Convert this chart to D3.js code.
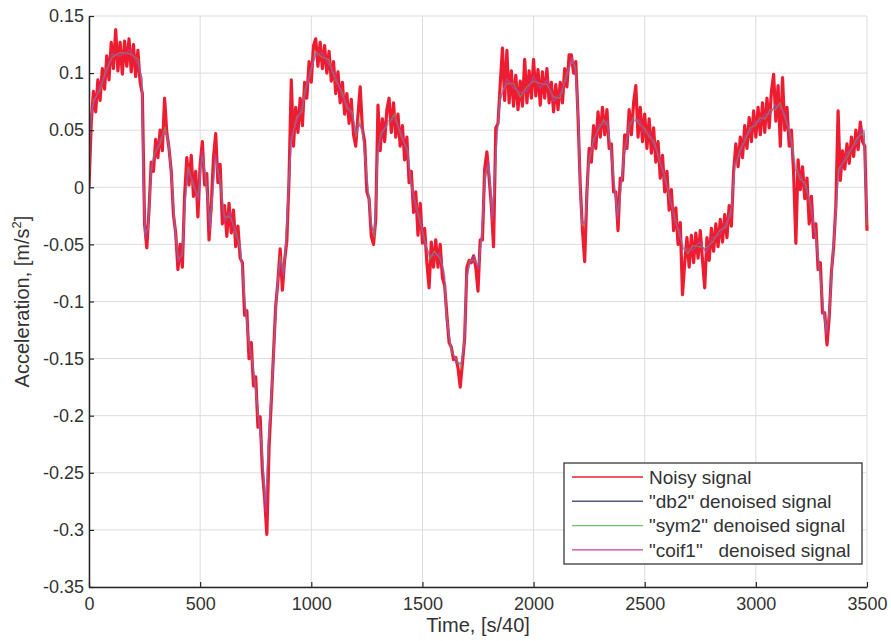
<!DOCTYPE html>
<html>
<head>
<meta charset="utf-8">
<script src="https://cdn.jsdelivr.net/npm/d3@7"></script>
<style>
body { margin: 0; background: #fff; }
svg text { font-family: "Liberation Sans", Arial, sans-serif; fill: #333; }
</style>
</head>
<body>
<script>
// noisy signal, one value every 10 samples
var noisyStep = 10;
var noisySignal = [
  0.000, 0.056, 0.084, 0.066, 0.094, 0.076, 0.104, 0.086, 0.115, 0.094,
  0.127, 0.104, 0.138, 0.102, 0.127, 0.099, 0.128, 0.106, 0.130, 0.101,
  0.125, 0.097, 0.120, 0.092, 0.082, -0.032, -0.053, -0.020, 0.022, 0.014,
  0.042, 0.026, 0.050, 0.032, 0.078, 0.048, 0.034, 0.014, -0.024, -0.040,
  -0.072, -0.050, -0.070, -0.008, 0.026, 0.002, 0.028, -0.008, 0.014, -0.026,
  0.020, 0.040, 0.002, 0.012, -0.046, -0.016, 0.026, 0.047, 0.004, 0.020,
  -0.032, -0.016, -0.043, -0.014, -0.040, -0.020, -0.052, -0.034, -0.062, -0.066,
  -0.112, -0.108, -0.150, -0.136, -0.174, -0.166, -0.210, -0.201, -0.248, -0.272,
  -0.304, -0.228, -0.188, -0.146, -0.104, -0.082, -0.054, -0.090, -0.064, -0.047,
  0.008, 0.094, 0.036, 0.070, 0.048, 0.078, 0.054, 0.092, 0.078, 0.110,
  0.092, 0.124, 0.130, 0.106, 0.127, 0.104, 0.124, 0.100, 0.119, 0.093,
  0.110, 0.082, 0.101, 0.074, 0.092, 0.064, 0.082, 0.056, 0.077, 0.046,
  0.036, 0.063, 0.088, 0.051, 0.040, -0.004, -0.010, -0.043, -0.050, -0.028,
  0.072, 0.032, 0.060, 0.040, 0.068, 0.078, 0.048, 0.074, 0.044, 0.064,
  0.036, 0.054, 0.024, 0.044, 0.004, 0.014, -0.022, -0.004, -0.042, -0.014,
  -0.049, -0.036, -0.066, -0.088, -0.048, -0.070, -0.046, -0.070, -0.050, -0.079,
  -0.086, -0.112, -0.136, -0.140, -0.151, -0.149, -0.158, -0.175, -0.154, -0.132,
  -0.070, -0.064, -0.066, -0.060, -0.070, -0.091, -0.046, -0.046, 0.016, 0.031,
  0.008, -0.016, -0.052, 0.052, 0.056, 0.090, 0.122, 0.076, 0.120, 0.074,
  0.102, 0.071, 0.098, 0.068, 0.093, 0.071, 0.112, 0.074, 0.102, 0.078,
  0.112, 0.080, 0.103, 0.072, 0.101, 0.078, 0.104, 0.074, 0.092, 0.066,
  0.090, 0.068, 0.092, 0.074, 0.104, 0.088, 0.116, 0.116, 0.100, 0.110,
  0.062, 0.002, -0.038, -0.065, -0.004, 0.034, 0.022, 0.054, 0.034, 0.066,
  0.044, 0.070, 0.046, 0.068, 0.034, 0.038, -0.004, -0.004, -0.038, 0.008,
  0.006, 0.046, 0.034, 0.068, 0.046, 0.074, 0.089, 0.044, 0.070, 0.040,
  0.064, 0.034, 0.060, 0.030, 0.052, 0.022, 0.040, 0.008, 0.028, -0.004,
  0.014, -0.020, -0.002, -0.038, -0.018, -0.050, -0.031, -0.094, -0.066, -0.044,
  -0.070, -0.042, -0.066, -0.040, -0.062, -0.038, -0.064, -0.088, -0.044, -0.064,
  -0.036, -0.056, -0.032, -0.052, -0.028, -0.048, -0.024, -0.044, -0.016, -0.034,
  0.014, 0.038, 0.018, 0.044, 0.026, 0.054, 0.034, 0.061, 0.040, 0.067,
  0.044, 0.070, 0.046, 0.074, 0.048, 0.078, 0.052, 0.084, 0.099, 0.058,
  0.089, 0.036, 0.096, 0.050, 0.070, 0.036, 0.050, 0.012, -0.049, 0.024,
  -0.002, 0.018, -0.010, 0.008, -0.032, -0.008, -0.044, -0.032, -0.072, -0.066,
  -0.110, -0.110, -0.138, -0.114, -0.074, -0.052, -0.016, 0.067, 0.006, 0.032,
  0.016, 0.038, 0.021, 0.044, 0.027, 0.050, 0.033, 0.057, 0.040, 0.036,
  -0.038
];

// the three denoised signals share these sample times
var denoisedTime = [
  0, 8, 20, 50, 75, 105, 140, 185, 220, 238,
  244, 252, 266, 279, 290, 320, 342, 358, 374, 388,
  402, 419, 432, 446, 468, 491, 509, 523, 545, 568,
  590, 610, 635, 660, 680, 700, 718, 740, 760, 778,
  795, 808, 830, 845, 860, 875, 886, 898, 910, 935,
  958, 973, 995, 1018, 1048, 1078, 1108, 1138, 1161, 1185,
  1201, 1216, 1231, 1254, 1269, 1284, 1291, 1299, 1314, 1344,
  1374, 1404, 1434, 1449, 1472, 1486, 1509, 1532, 1554, 1577,
  1599, 1607, 1629, 1652, 1674, 1689, 1697, 1712, 1734, 1752,
  1767, 1782, 1797, 1815, 1835, 1850, 1880, 1910, 1940, 1970,
  2000, 2030, 2060, 2090, 2120, 2150, 2172, 2188, 2203, 2210,
  2218, 2233, 2248, 2270, 2293, 2315, 2333, 2348, 2363, 2378,
  2393, 2408, 2431, 2453, 2476, 2498, 2521, 2543, 2566, 2589,
  2611, 2634, 2656, 2671, 2694, 2716, 2746, 2776, 2806, 2836,
  2866, 2889, 2904, 2929, 2952, 2974, 2997, 3019, 3042, 3064,
  3087, 3109, 3132, 3154, 3177, 3199, 3222, 3245, 3267, 3290,
  3305, 3318, 3330, 3342, 3357, 3372, 3410, 3455, 3477, 3487,
  3493, 3500
];

var db2Signal = [
  0.000, 0.060, 0.074, 0.087, 0.100, 0.116, 0.116, 0.119, 0.110, 0.094,
  0.010, -0.043, -0.035, 0.015, 0.026, 0.040, 0.050, 0.040, 0.000, -0.041,
  -0.064, -0.058, -0.012, 0.016, 0.004, -0.010, 0.030, 0.011, -0.036, 0.027,
  0.004, -0.028, -0.024, -0.040, -0.052, -0.098, -0.133, -0.160, -0.195, -0.230,
  -0.280, -0.220, -0.150, -0.090, -0.062, -0.076, -0.046, 0.000, 0.042, 0.060,
  0.068, 0.084, 0.100, 0.117, 0.116, 0.110, 0.096, 0.082, 0.071, 0.064,
  0.046, 0.057, 0.048, 0.000, -0.032, -0.042, -0.010, 0.032, 0.046, 0.056,
  0.062, 0.047, 0.030, 0.003, -0.018, -0.026, -0.047, -0.061, -0.058, -0.060,
  -0.076, -0.112, -0.142, -0.152, -0.156, -0.135, -0.082, -0.066, -0.062, -0.070,
  -0.040, 0.008, 0.022, -0.028, 0.045, 0.078, 0.093, 0.089, 0.081, 0.086,
  0.095, 0.089, 0.092, 0.077, 0.080, 0.098, 0.112, 0.104, 0.055, -0.005,
  -0.032, -0.030, 0.023, 0.040, 0.053, 0.057, 0.056, 0.031, 0.003, -0.027,
  0.000, 0.030, 0.055, 0.060, 0.057, 0.050, 0.046, 0.038, 0.025, 0.009,
  -0.007, -0.027, -0.040, -0.052, -0.056, -0.053, -0.050, -0.055, -0.046, -0.040,
  -0.033, -0.022, 0.018, 0.031, 0.043, 0.050, 0.056, 0.059, 0.062, 0.066,
  0.070, 0.072, 0.062, 0.046, 0.018, 0.009, 0.002, -0.014, -0.040, -0.078,
  -0.110, -0.127, -0.110, -0.072, -0.027, 0.014, 0.028, 0.041, 0.049, 0.047,
  0.005, -0.030
];

var sym2Signal = [
  0.000, 0.058, 0.076, 0.085, 0.102, 0.114, 0.118, 0.117, 0.112, 0.092,
  0.014, -0.040, -0.037, 0.012, 0.028, 0.038, 0.053, 0.038, 0.003, -0.039,
  -0.062, -0.060, -0.015, 0.018, 0.002, -0.008, 0.028, 0.013, -0.034, 0.025,
  0.006, -0.026, -0.026, -0.038, -0.054, -0.095, -0.135, -0.158, -0.197, -0.228,
  -0.276, -0.224, -0.147, -0.093, -0.060, -0.074, -0.049, 0.003, 0.040, 0.062,
  0.066, 0.086, 0.098, 0.119, 0.114, 0.112, 0.094, 0.084, 0.069, 0.066,
  0.044, 0.060, 0.046, 0.003, -0.030, -0.044, -0.013, 0.030, 0.048, 0.054,
  0.064, 0.045, 0.032, 0.001, -0.016, -0.028, -0.045, -0.063, -0.056, -0.062,
  -0.074, -0.109, -0.144, -0.150, -0.158, -0.132, -0.085, -0.064, -0.064, -0.068,
  -0.043, 0.011, 0.020, -0.025, 0.043, 0.080, 0.091, 0.091, 0.079, 0.088,
  0.093, 0.091, 0.090, 0.079, 0.078, 0.100, 0.110, 0.106, 0.052, -0.002,
  -0.034, -0.028, 0.020, 0.042, 0.051, 0.059, 0.054, 0.033, 0.006, -0.025,
  -0.003, 0.032, 0.053, 0.062, 0.055, 0.052, 0.044, 0.040, 0.023, 0.011,
  -0.009, -0.025, -0.042, -0.050, -0.058, -0.051, -0.052, -0.053, -0.048, -0.038,
  -0.035, -0.019, 0.015, 0.033, 0.041, 0.052, 0.054, 0.061, 0.060, 0.068,
  0.068, 0.074, 0.060, 0.048, 0.021, 0.007, 0.004, -0.016, -0.038, -0.080,
  -0.108, -0.125, -0.112, -0.070, -0.030, 0.016, 0.026, 0.043, 0.047, 0.045,
  0.008, -0.033
];

var coif1Signal = [
  0.000, 0.062, 0.073, 0.089, 0.098, 0.117, 0.115, 0.120, 0.108, 0.096,
  0.008, -0.045, -0.033, 0.017, 0.024, 0.042, 0.048, 0.042, -0.002, -0.043,
  -0.066, -0.056, -0.010, 0.014, 0.006, -0.012, 0.032, 0.009, -0.038, 0.029,
  0.002, -0.030, -0.022, -0.042, -0.050, -0.100, -0.131, -0.162, -0.193, -0.232,
  -0.284, -0.216, -0.153, -0.088, -0.064, -0.078, -0.044, -0.002, 0.044, 0.058,
  0.070, 0.082, 0.102, 0.115, 0.118, 0.108, 0.098, 0.080, 0.073, 0.062,
  0.048, 0.055, 0.050, -0.002, -0.034, -0.040, -0.008, 0.034, 0.044, 0.058,
  0.060, 0.049, 0.028, 0.005, -0.020, -0.024, -0.049, -0.059, -0.060, -0.058,
  -0.078, -0.115, -0.140, -0.154, -0.154, -0.138, -0.080, -0.068, -0.060, -0.072,
  -0.038, 0.006, 0.024, -0.030, 0.047, 0.076, 0.095, 0.087, 0.083, 0.084,
  0.097, 0.087, 0.094, 0.075, 0.082, 0.096, 0.114, 0.102, 0.058, -0.008,
  -0.030, -0.032, 0.026, 0.038, 0.055, 0.055, 0.058, 0.029, 0.000, -0.029,
  0.003, 0.028, 0.057, 0.058, 0.059, 0.048, 0.048, 0.036, 0.027, 0.007,
  -0.005, -0.029, -0.038, -0.054, -0.054, -0.055, -0.048, -0.057, -0.044, -0.042,
  -0.031, -0.025, 0.021, 0.029, 0.045, 0.048, 0.058, 0.057, 0.064, 0.064,
  0.072, 0.070, 0.064, 0.044, 0.015, 0.011, 0.000, -0.012, -0.042, -0.076,
  -0.112, -0.129, -0.108, -0.074, -0.024, 0.012, 0.030, 0.039, 0.051, 0.049,
  0.002, -0.027
];

var xTicks = [0, 500, 1000, 1500, 2000, 2500, 3000, 3500];
var yTicks = [-0.35, -0.3, -0.25, -0.2, -0.15, -0.1, -0.05, 0, 0.05, 0.1, 0.15];
var legendLabels = ["Noisy signal", "\"db2\" denoised signal", "\"sym2\" denoised signal", "\"coif1\"   denoised signal"];
var seriesColors = ["#ee1c30", "#4e5a80", "#6cc46c", "#c040a8"];
var seriesOpacity = [1, 0.35, 0.45, 0.7];

var width = 891, height = 641;
var margin = {top: 16, right: 24, bottom: 54, left: 89};

var svg = d3.select("body").append("svg")
    .attr("width", width)
    .attr("height", height);

var x = d3.scaleLinear().domain([0, 3500]).range([margin.left, width - margin.right]);
var y = d3.scaleLinear().domain([-0.35, 0.15]).range([height - margin.bottom, margin.top]);

// grid
svg.append("g").selectAll("line").data(xTicks).enter().append("line")
    .attr("x1", function(d) { return x(d); })
    .attr("x2", function(d) { return x(d); })
    .attr("y1", y(-0.35)).attr("y2", y(0.15))
    .attr("stroke", "#dcdcdc").attr("stroke-width", 1);
svg.append("g").selectAll("line").data(yTicks).enter().append("line")
    .attr("x1", x(0)).attr("x2", x(3500))
    .attr("y1", function(d) { return y(d); })
    .attr("y2", function(d) { return y(d); })
    .attr("stroke", "#dcdcdc").attr("stroke-width", 1);

svg.append("clipPath").attr("id", "plotclip").append("rect")
    .attr("x", x(0)).attr("y", y(0.15) - 2)
    .attr("width", x(3500) - x(0) + 2).attr("height", y(-0.35) - y(0.15) + 2);

var plot = svg.append("g").attr("clip-path", "url(#plotclip)");

var noisyLine = d3.line()
    .x(function(d, i) { return x(i * noisyStep); })
    .y(function(d) { return y(d); });
plot.append("path")
    .datum(noisySignal)
    .attr("d", noisyLine)
    .attr("fill", "none")
    .attr("stroke", seriesColors[0])
    .attr("stroke-width", 3.2)
    .attr("stroke-linejoin", "round");

// denoised curves sit on top, see-through so the red shows
var denLine = d3.line()
    .x(function(d, i) { return x(denoisedTime[i]); })
    .y(function(d) { return y(d); });
[db2Signal, sym2Signal, coif1Signal].forEach(function(s, k) {
    plot.append("path")
        .datum(s)
        .attr("d", denLine)
        .attr("fill", "none")
        .attr("stroke", seriesColors[k + 1])
        .attr("stroke-width", 1.5)
        .attr("opacity", seriesOpacity[k + 1]);
});

// axes, ticks point inward like matlab
var fmt = function(d) { return d === 0 ? "0" : String(d); };
var yAxis = svg.append("g")
    .attr("transform", "translate(" + x(0) + ",0)")
    .call(d3.axisLeft(y).tickValues(yTicks).tickFormat(fmt).tickSizeInner(-5).tickSizeOuter(0).tickPadding(5));
var xAxis = svg.append("g")
    .attr("transform", "translate(0," + y(-0.35) + ")")
    .call(d3.axisBottom(x).tickValues(xTicks).tickFormat(fmt).tickSizeInner(-5).tickSizeOuter(0).tickPadding(10));
[xAxis, yAxis].forEach(function(a) {
    a.select(".domain").attr("stroke", "#262626").attr("stroke-width", 1.5);
    a.selectAll(".tick line").attr("stroke", "#262626").attr("stroke-width", 1.2);
    a.selectAll("text").attr("font-size", 18).attr("fill", "#333")
        .attr("font-family", "'Liberation Sans', Arial, sans-serif");
});

// axis titles
svg.append("text")
    .attr("x", (x(0) + x(3500)) / 2)
    .attr("y", 632)
    .attr("text-anchor", "middle")
    .attr("font-size", 20)
    .text("Time, [s/40]");

var yt = svg.append("text")
    .attr("transform", "translate(29," + ((y(0.15) + y(-0.35)) / 2) + ") rotate(-90)")
    .attr("text-anchor", "middle")
    .attr("font-size", 20);
yt.append("tspan").text("Acceleration, [m/s");
yt.append("tspan").attr("dy", -8).attr("font-size", 13).text("2");
yt.append("tspan").attr("dy", 8).text("]");

// legend
var lg = svg.append("g");
lg.append("rect")
    .attr("x", 564).attr("y", 463)
    .attr("width", 298).attr("height", 101)
    .attr("fill", "#fff")
    .attr("stroke", "#262626").attr("stroke-width", 1.2);
var rows = lg.selectAll("g.row").data(legendLabels).enter().append("g")
    .attr("transform", function(d, i) { return "translate(0," + (477 + i * 24.3) + ")"; });
rows.append("line")
    .attr("x1", 572).attr("x2", 643)
    .attr("stroke", function(d, i) { return seriesColors[i]; })
    .attr("stroke-width", 1.4);
rows.append("text")
    .attr("x", 649)
    .attr("dy", "0.36em")
    .attr("font-size", 19)
    .attr("fill", "#222")
    .style("white-space", "pre")
    .text(function(d) { return d; });
</script>
</body>
</html>
